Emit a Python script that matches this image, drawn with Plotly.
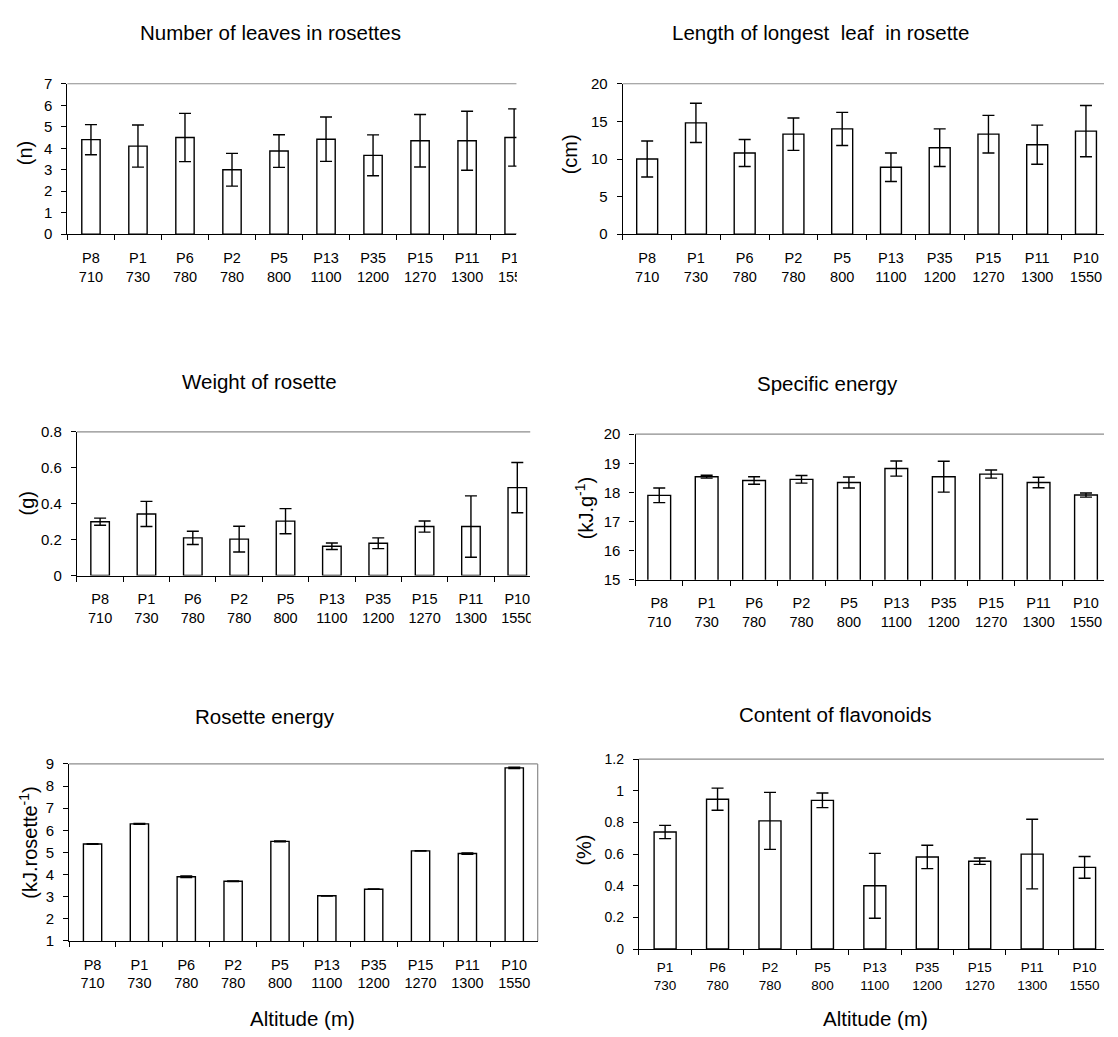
import plotly.graph_objects as go

W, H = 1118, 1037

# ---------------- data ----------------
sites = ["P8", "P1", "P6", "P2", "P5", "P13", "P35", "P15", "P11", "P10"]
alts = ["710", "730", "780", "780", "800", "1100", "1200", "1270", "1300", "1550"]
flav_sites = ["P1", "P6", "P2", "P5", "P13", "P35", "P15", "P11", "P10"]
flav_alts = ["730", "780", "780", "800", "1100", "1200", "1270", "1300", "1550"]

leaves_mean = [4.4, 4.1, 4.5, 3.0, 3.87, 4.42, 3.67, 4.35, 4.35, 4.5]
leaves_sd = [0.7, 0.98, 1.12, 0.76, 0.76, 1.03, 0.95, 1.22, 1.37, 1.33]

length_mean = [10.0, 14.8, 10.8, 13.3, 14.0, 8.9, 11.5, 13.3, 11.9, 13.7]
length_sd = [2.4, 2.6, 1.8, 2.15, 2.2, 1.9, 2.5, 2.5, 2.6, 3.4]

weight_mean = [0.30, 0.343, 0.21, 0.203, 0.303, 0.163, 0.18, 0.273, 0.273, 0.49]
weight_sd = [0.02, 0.07, 0.037, 0.072, 0.07, 0.018, 0.03, 0.031, 0.171, 0.14]

spec_mean = [17.9, 18.54, 18.41, 18.45, 18.34, 18.82, 18.54, 18.63, 18.34, 17.91]
spec_sd = [0.25, 0.05, 0.13, 0.13, 0.19, 0.26, 0.53, 0.14, 0.18, 0.07]

ros_mean = [5.38, 6.29, 3.9, 3.70, 5.5, 3.04, 3.34, 5.07, 4.95, 8.82]
ros_sd = [0.01, 0.02, 0.04, 0.01, 0.02, 0.01, 0.01, 0.01, 0.03, 0.03]

flav_mean = [0.74, 0.947, 0.81, 0.94, 0.40, 0.582, 0.555, 0.60, 0.516]
flav_sd = [0.042, 0.07, 0.18, 0.046, 0.205, 0.074, 0.02, 0.22, 0.069]

titles = ["Number of leaves in rosettes",
          "Length of longest\u00a0 leaf\u00a0 in rosette",
          "Weight of rosette", "Specific energy",
          "Rosette energy", "Content of flavonoids"]
ytitles = ["(n)", "(cm)", "(g)", "(kJ.g<sup>-1</sup>)",
           "(kJ.rosette<sup>-1</sup>)", "(%)"]
xtitle = "Altitude (m)"

cats = [f"{s}<br>{a}" for s, a in zip(sites, alts)]
flav_cats = [f"{s}<br>{a}" for s, a in zip(flav_sites, flav_alts)]

FONT = "Arial, Liberation Sans, sans-serif"

# panel layout (pixels): x0, x1, ytop, ybottom, x-range end, y-range, dtick, bar width
panels = [
    dict(cats=cats, m=leaves_mean, e=leaves_sd, x0=68.3, x1=523.0, yt=76, yb=229,
         xend=9.05, yr=[0, 7], dt=1, bw=0.39, tf=14.5, so=10),
    dict(cats=cats, m=length_mean, e=length_sd, x0=630.7, x1=1118, yt=76, yb=229,
         xend=9.37, yr=[0, 20], dt=5, bw=0.43, tf=14.5, so=10),
    dict(cats=cats, m=weight_mean, e=weight_sd, x0=77.9, x1=537.0, yt=430, yb=576,
         xend=9.28, yr=[0, 0.8], dt=0.2, bw=0.40, tf=14.5, so=10),
    dict(cats=cats, m=spec_mean, e=spec_sd, x0=643.6, x1=1118, yt=432.3, yb=580.3,
         xend=9.38, yr=[15, 20], dt=1, bw=0.48, tf=14.5, so=10),
    dict(cats=cats, m=ros_mean, e=ros_sd, x0=70.0, x1=544.5, yt=767.5, yb=947.5,
         xend=9.5, yr=[1, 9], dt=1, bw=0.39, tf=14.5, so=10),
    dict(cats=flav_cats, m=flav_mean, e=flav_sd, x0=647.0, x1=1118, yt=762.7, yb=955.7,
         xend=8.37, yr=[0, 1.2], dt=0.2, bw=0.42, tf=13.5, so=6),
]

fig = go.Figure()
shapes = []
layout_axes = {}
for i, p in enumerate(panels, start=1):
    sfx = "" if i == 1 else str(i)
    xa, ya = f"x{sfx}", f"y{sfx}"
    fig.add_trace(go.Bar(
        x=p["cats"], y=p["m"], width=p["bw"],
        marker=dict(color="white", line=dict(color="black", width=1.4)),
        error_y=dict(type="data", array=p["e"], visible=True, color="black",
                     thickness=1.4, width=6),
        xaxis=xa, yaxis=ya, showlegend=False, hoverinfo="skip"))
    layout_axes[f"xaxis{sfx}"] = dict(
        domain=[p["x0"] / W, p["x1"] / W], anchor=ya, type="category",
        range=[-0.5, p["xend"]], tickson="boundaries", ticks="outside", ticklen=5,
        tickcolor="black", tickwidth=1, showline=True, linecolor="black", linewidth=1.3,
        showgrid=False, zeroline=False, ticklabelstandoff=p["so"],
        tickfont=dict(family=FONT, size=p["tf"], color="black"), fixedrange=True)
    layout_axes[f"yaxis{sfx}"] = dict(
        domain=[1 - p["yb"] / H, 1 - p["yt"] / H], anchor=xa,
        range=p["yr"], tick0=p["yr"][0], dtick=p["dt"], ticks="outside", ticklen=5,
        tickcolor="black", tickwidth=1, showline=True, linecolor="black", linewidth=1.3,
        showgrid=False, zeroline=False, ticklabelstandoff=6,
        tickfont=dict(family=FONT, size=15 if i != 6 else 14, color="black"), fixedrange=True)
    # grey top frame line
    shapes.append(dict(type="line", xref=f"{xa} domain", yref=f"{ya} domain",
                       x0=0, x1=1, y0=1, y1=1, line=dict(color="#8c8c8c", width=1.2)))
    if i == 5:
        shapes.append(dict(type="line", xref=f"{xa} domain", yref=f"{ya} domain",
                           x0=1, x1=1, y0=0, y1=1, line=dict(color="#8c8c8c", width=1.2)))

# white covers reproducing the clipped right edge of panels 1 and 3
for (cx0, cx1, cy0, cy1) in [(523.5, 556, 60, 300), (537.5, 560, 420, 625)]:
    shapes.append(dict(type="rect", xref="paper", yref="paper", layer="above",
                       x0=cx0 / W, x1=cx1 / W, y0=1 - cy1 / H, y1=1 - cy0 / H,
                       fillcolor="white", line=dict(width=0)))

ann = []
title_pos = [(273.5, 24), (830.5, 24), (263, 379), (837.5, 381), (268, 719), (846, 717)]
for t, (px, py) in zip(titles, title_pos):
    ann.append(dict(text=t, x=px / W, y=1 - py / H, xref="paper", yref="paper",
                    xanchor="center", yanchor="middle", showarrow=False,
                    font=dict(family=FONT, size=20.5, color="black")))
ytitle_pos = [(25, 147), (577, 148), (27, 503), (592, 508), (28, 848), (591, 855)]
for t, (px, py) in zip(ytitles, ytitle_pos):
    ann.append(dict(text=t, x=px / W, y=1 - py / H, xref="paper", yref="paper",
                    xanchor="center", yanchor="middle", showarrow=False, textangle=-90,
                    font=dict(family=FONT, size=20, color="black")))
for px in (306.7, 886.7):
    ann.append(dict(text=xtitle, x=px / W, y=1 - 1026.7 / H, xref="paper", yref="paper",
                    xanchor="center", yanchor="middle", showarrow=False,
                    font=dict(family=FONT, size=20.5, color="black")))

fig.update_layout(
    width=W, height=H, margin=dict(l=0, r=0, t=0, b=0),
    paper_bgcolor="white", plot_bgcolor="white",
    shapes=shapes, annotations=ann, showlegend=False,
    font=dict(family=FONT, color="black"),
    **layout_axes)

fig.write_html("out.html", config={"displayModeBar": False},
               post_script="document.body.style.margin='0';document.body.style.overflow='hidden';")
